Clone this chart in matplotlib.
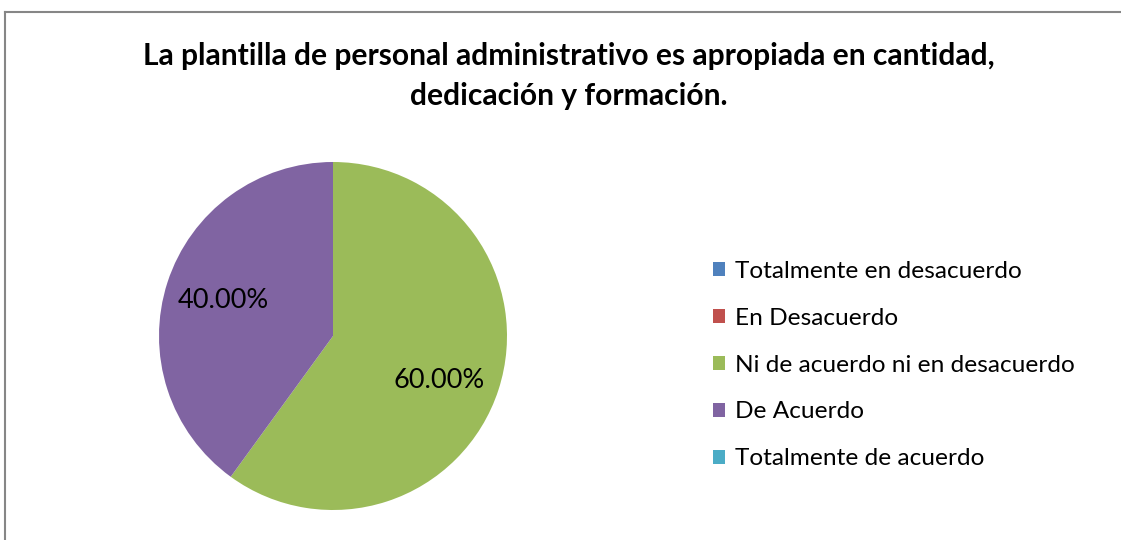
import matplotlib
matplotlib.use("Agg")
import matplotlib.pyplot as plt
from matplotlib.lines import Line2D

categories = ["Totalmente en desacuerdo", "En Desacuerdo",
              "Ni de acuerdo ni en desacuerdo", "De Acuerdo",
              "Totalmente de acuerdo"]
values = [0, 0, 60, 40, 0]
colors = ["#4F81BD", "#C0504D", "#9BBB59", "#8064A2", "#4BACC6"]
title = "La plantilla de personal administrativo es apropiada en cantidad,\ndedicación y formación."

plt.rcParams['font.family'] = ['Lato', 'DejaVu Sans']

W, H = 1121, 540
fig = plt.figure(figsize=(W / 100, H / 100), dpi=100)
fig.patch.set_facecolor("white")

# border (left and top only visible)
fig.add_artist(Line2D([4.5 / W, 4.5 / W], [0, 1 - 11.5 / H], transform=fig.transFigure,
                      color="#868686", lw=1.5))
fig.add_artist(Line2D([4.5 / W, 1], [1 - 11.5 / H, 1 - 11.5 / H], transform=fig.transFigure,
                      color="#868686", lw=1.5))

cx, cy, r = 333, 336, 174
ax = fig.add_axes([(cx - r) / W, (H - cy - r) / H, 2 * r / W, 2 * r / H])


def fmt(p):
    return f"{p:.2f}%" if p > 0 else ""


wedges, texts, autotexts = ax.pie(values, colors=colors, startangle=90, counterclock=False,
                                  autopct=fmt, pctdistance=0.66,
                                  wedgeprops=dict(linewidth=0),
                                  textprops=dict(fontsize=19.5, color="black"))
ax.set_xlim(-1, 1)
ax.set_ylim(-1, 1)
# slight nudge of the large-slice label to match the reference placement
x0, y0 = autotexts[2].get_position()
autotexts[2].set_position((x0 - 0.02, y0 - 0.05))

fig.text(569 / W, 1 - 76 / H, title, ha="center", va="center", fontsize=21.6,
         fontweight="bold", linespacing=1.48)

fig.legend(wedges, categories, loc="center left", bbox_to_anchor=(713 / W, 1 - 365 / H),
           frameon=False, fontsize=17.6, handlelength=0.5, handleheight=0.5,
           handletextpad=0.4, labelspacing=1.06, borderpad=0, borderaxespad=0)

fig.savefig("out.png", dpi=100)
